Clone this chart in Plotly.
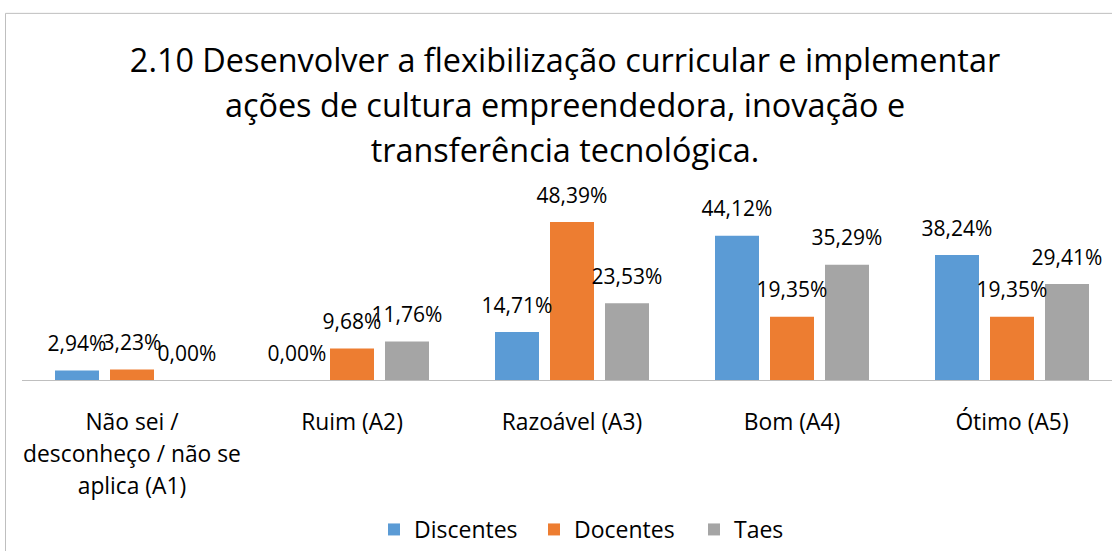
import plotly.graph_objects as go

CATEGORIES = [
    "Não sei /<br>desconheço / não se<br>aplica (A1)",
    "Ruim (A2)",
    "Razoável (A3)",
    "Bom (A4)",
    "Ótimo (A5)",
]
DISCENTES = [2.94, 0.00, 14.71, 44.12, 38.24]
DOCENTES = [3.23, 9.68, 48.39, 19.35, 19.35]
TAES = [0.00, 11.76, 23.53, 35.29, 29.41]

SERIES = [
    ("Discentes", DISCENTES, "#5B9BD5"),
    ("Docentes", DOCENTES, "#ED7D31"),
    ("Taes", TAES, "#A5A5A5"),
]

TITLE_LINES = [
    "2.10 Desenvolver a flexibilização curricular e implementar",
    "ações de cultura empreendedora, inovação e",
    "transferência tecnológica.",
]

FONT = "Open Sans, sans-serif"
WIDTH, HEIGHT = 1112, 551
LEFT, TOP, BOTTOM = 22, 184, 170
PLOT_W = WIDTH - LEFT
PLOT_H = HEIGHT - TOP - BOTTOM


def fmt(v: float) -> str:
    return f"{v:.2f}%".replace(".", ",")


def loose(lines: list[str], size: float) -> str:
    # small glyphs inside a larger line box, to get Excel's loose line spacing
    return "<br>".join(f"<span style='font-size:{size}px'>{part}</span>" for part in lines)


fig = go.Figure()

for name, values, color in SERIES:
    fig.add_trace(
        go.Bar(
            x=CATEGORIES,
            y=values,
            name=name,
            marker=dict(color=color, line=dict(width=0)),
            offsetgroup=name,
            hoverinfo="skip",
        )
    )

for name, values, color in SERIES:
    fig.add_trace(
        go.Scatter(
            x=CATEGORIES,
            y=values,
            mode="markers+text",
            text=[fmt(v) for v in values],
            textposition="top center",
            textfont=dict(family=FONT, size=21, color="#000000"),
            marker=dict(size=21, opacity=0),
            offsetgroup=name,
            showlegend=False,
            hoverinfo="skip",
            cliponaxis=False,
        )
    )

# chart-area border (top and left edges visible in the crop)
px = lambda x: (x - LEFT) / PLOT_W
py = lambda y: (HEIGHT - BOTTOM - y) / PLOT_H
fig.add_shape(type="line", xref="paper", yref="paper", x0=px(5.5), x1=px(1130), y0=py(12.5), y1=py(12.5),
              line=dict(color="#BFBFBF", width=1))
fig.add_shape(type="line", xref="paper", yref="paper", x0=px(5.5), x1=px(5.5), y0=py(12.5), y1=py(600),
              line=dict(color="#BFBFBF", width=1))

fig.update_layout(
    width=WIDTH,
    height=HEIGHT,
    margin=dict(l=LEFT, r=0, t=TOP, b=BOTTOM),
    paper_bgcolor="white",
    plot_bgcolor="white",
    font=dict(family=FONT, color="#000000"),
    barmode="group",
    bargap=0.25,
    bargroupgap=0.2,
    scattermode="group",
    scattergap=0.25,
    title=dict(
        text=loose(TITLE_LINES, 32.4),
        font=dict(family=FONT, size=34.5, color="#000000"),
        x=565 / WIDTH,
        xanchor="center",
        xref="container",
        y=1 - 72 / HEIGHT,
        yanchor="top",
        yref="container",
    ),
    legend=dict(
        orientation="h",
        x=px(374),
        xanchor="left",
        y=py(531),
        yanchor="middle",
        entrywidth=115,
        font=dict(family=FONT, size=23, color="#000000"),
        bgcolor="rgba(0,0,0,0)",
    ),
    showlegend=True,
)

fig.update_xaxes(
    type="category",
    range=[-0.5, -0.5 + PLOT_W / 220],
    tickvals=CATEGORIES,
    ticktext=[loose(c.split("<br>"), 22.8) for c in CATEGORIES],
    tickfont=dict(family=FONT, size=24.6, color="#000000"),
    showline=True,
    linecolor="#BFBFBF",
    linewidth=1.3,
    showgrid=False,
    ticks="",
    ticklabelstandoff=19,
    fixedrange=True,
)
fig.update_yaxes(
    range=[0, 60],
    visible=False,
    showgrid=False,
    zeroline=False,
    fixedrange=True,
)

fig.write_html(
    "out.html",
    config={"displayModeBar": False},
    post_script="document.body.style.margin = '0';",
)
